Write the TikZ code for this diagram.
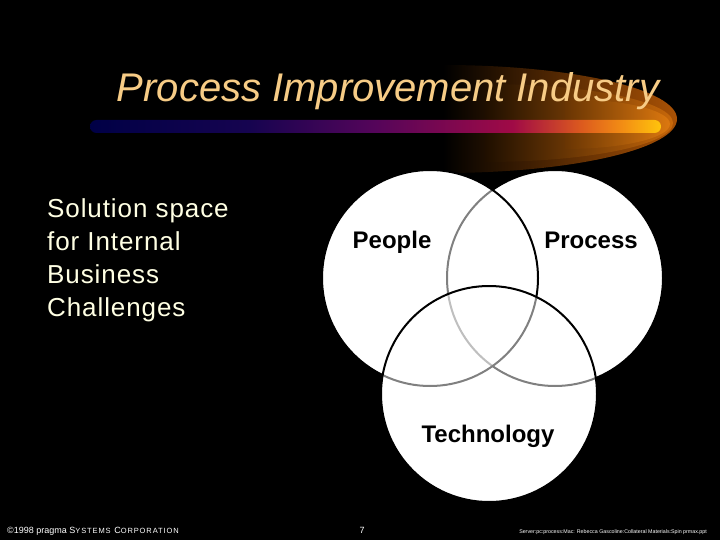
\documentclass[tikz,border=0pt]{standalone}
\usepackage{fontspec}
\setmainfont{Liberation Sans}
\usetikzlibrary{positioning}

\definecolor{titlepeach}{RGB}{247,204,134}
\definecolor{bodycream}{RGB}{255,255,228}
\definecolor{barnavy}{RGB}{0,0,70}
\definecolor{barindigo}{RGB}{22,4,80}
\definecolor{barplum}{RGB}{85,5,90}
\definecolor{barcrimson}{RGB}{160,10,70}
\definecolor{barrust}{RGB}{220,90,30}
\definecolor{barorange}{RGB}{242,140,20}
\definecolor{baryellow}{RGB}{255,196,12}
\definecolor{glowbrown}{RGB}{170,82,5}
\definecolor{glowmid}{RGB}{31,15,0}
\definecolor{glowamber}{RGB}{200,104,10}
\definecolor{glowdeep}{RGB}{105,53,3}
\definecolor{glowhot}{RGB}{220,120,15}

% colours of the bar under the title, left to right
\pgfdeclarehorizontalshading{barshade}{100bp}{color(0bp)=(barnavy); color(25bp)=(barnavy);
  color(39bp)=(barindigo); color(50bp)=(barplum); color(62bp)=(barcrimson);
  color(68bp)=(barrust); color(71.5bp)=(barorange); color(75bp)=(baryellow); color(100bp)=(baryellow)}

\tikzset{
circlefill/.style={fill=white}, % white under every circle
veil/.style={fill=white, fill opacity=0.5}, % lets the lines below show through in grey
rim/.style={draw=black, line width=2pt}, % outline of a circle
setlabel/.style={anchor=base, font=\fontsize{24}{28}\selectfont\bfseries, text=black}, % People, Process, Technology
footer/.style={anchor=base, text=white, inner sep=0pt}, % lines at the foot of the slide
}

\begin{document}
\begin{tikzpicture}[x=1pt, y=-1pt]
  \fill[black] (0,0) rectangle (720,540);
  \useasboundingbox (0,0) rectangle (720,540);

  % glow round the end of the bar
  \shade[left color=black, right color=glowbrown] (443,65) arc[start angle=-90, end angle=90, x radius=234, y radius=54] -- cycle;
  \shade[left color=glowmid, right color=glowamber] (485,84) arc[start angle=-90, end angle=90, x radius=188, y radius=39] -- cycle;
  \shade[left color=glowdeep, right color=glowhot] (565,99) arc[start angle=-90, end angle=90, x radius=105, y radius=25] -- cycle;
  \shade[shading=barshade, rounded corners=6.5pt] (90,120) rectangle (661,133);

  \node[anchor=base, text=titlepeach, font=\fontsize{40}{44}\selectfont\itshape] (title) at (388,102) {Process Improvement Industry};

  \node[anchor=north west, inner sep=0pt, align=left, text=bodycream, font=\fontsize{26}{33}\selectfont\addfontfeature{LetterSpace=3.5}] (space) at (47,198)
    {Solution space\\for Internal\\Business\\Challenges};

  \coordinate (people) at (430,278);
  \coordinate (process) at (555,278);
  \coordinate (tech) at (489,394);

  \foreach \c in {people, process, tech}
    \fill[circlefill] (\c) circle[radius=108];
  \draw[rim] (process) circle[radius=108];
  \filldraw[veil, rim, draw opacity=1] (people) circle[radius=108];
  \filldraw[veil, rim, draw opacity=1] (tech) circle[radius=108];

  \node[setlabel] (peoplelbl) at (392,248) {People};
  \node[setlabel] (processlbl) at (591,248) {Process};
  \node[setlabel] (techlbl) at (488,442) {Technology};

  \node[footer, anchor=base west, font=\fontsize{9}{10}\selectfont] (corp) at (7,533)
    {©1998 pragma {\addfontfeature{LetterSpace=12}S{\fontsize{7.5}{9}\selectfont YSTEMS} C{\fontsize{7.5}{9}\selectfont ORPORATION}}};
  \node[footer, font=\fontsize{9}{10}\selectfont] (page) at (362,533) {7};
  \node[footer, anchor=base east, font=\fontsize{5.3}{6}\selectfont] (path) at (707,533)
    {Server:pc:process:Mac: Rebecca Gascoline:Collateral Materials:Spin prmax.ppt};
\end{tikzpicture}
\end{document}
